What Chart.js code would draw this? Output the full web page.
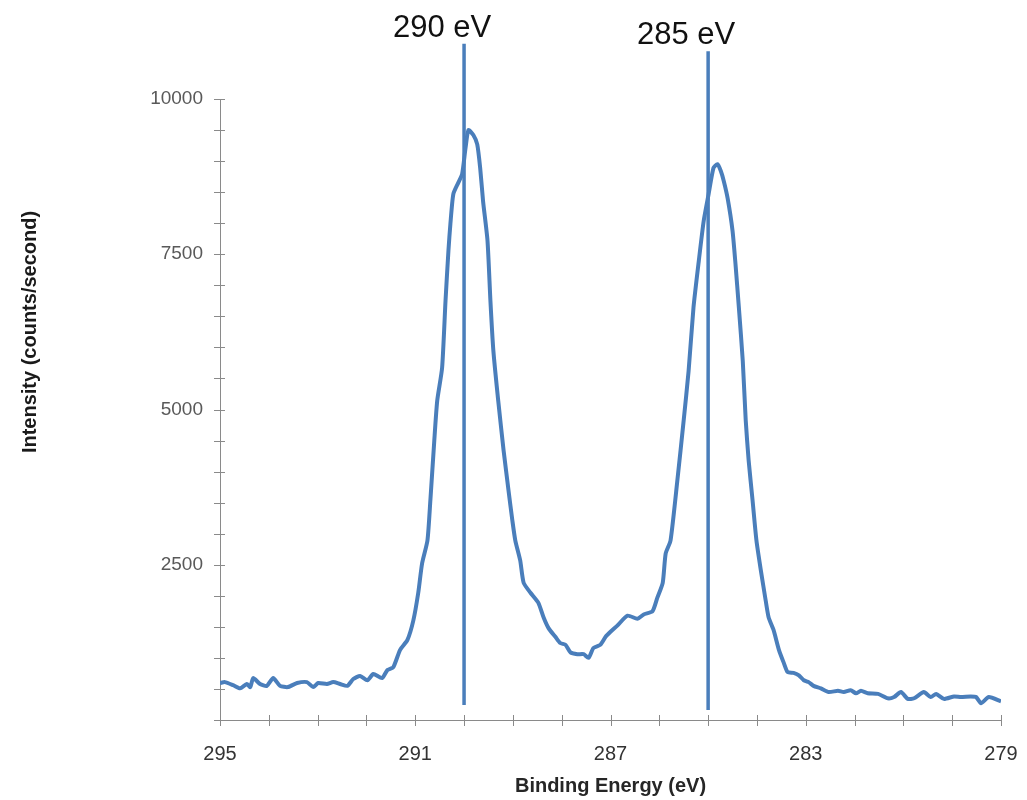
<!DOCTYPE html>
<html>
<head>
<meta charset="utf-8">
<script src="https://cdn.jsdelivr.net/npm/chart.js@4.4.0/dist/chart.umd.min.js"></script>
<style>
  html, body { margin: 0; padding: 0; background: #fff; overflow: hidden; }
  #wrap { width: 1027px; height: 800px; position: relative; }
  canvas { display: block; }
</style>
</head>
<body>
<div id="wrap"><canvas id="xps"></canvas></div>
<script>
// C 1s spectrum
var energy = [295.00, 294.90, 294.73, 294.59, 294.45, 294.38, 294.32, 294.18, 294.04, 293.91,
  293.77, 293.61, 293.42, 293.22, 293.09, 292.99, 292.81, 292.68, 292.54, 292.39,
  292.27, 292.13, 291.98, 291.86, 291.68, 291.57, 291.45, 291.31, 291.16, 291.04,
  290.94, 290.86, 290.75, 290.69, 290.61, 290.55, 290.45, 290.38, 290.32, 290.28,
  290.22, 290.12, 290.04, 289.97, 289.91, 289.81, 289.73, 289.67, 289.61, 289.52,
  289.46, 289.40, 289.30, 289.19, 289.09, 289.01, 288.95, 288.85, 288.78, 288.64,
  288.48, 288.37, 288.27, 288.13, 288.03, 287.92, 287.82, 287.68, 287.55, 287.45,
  287.35, 287.21, 287.10, 287.00, 286.86, 286.65, 286.45, 286.32, 286.14, 286.04,
  285.93, 285.87, 285.77, 285.63, 285.50, 285.40, 285.30, 285.19, 285.09, 284.99,
  284.89, 284.81, 284.74, 284.68, 284.60, 284.50, 284.44, 284.37, 284.29, 284.23,
  284.17, 284.09, 284.01, 283.92, 283.82, 283.76, 283.66, 283.55, 283.45, 283.37,
  283.25, 283.14, 283.04, 282.94, 282.84, 282.69, 282.53, 282.34, 282.22, 282.08,
  281.97, 281.87, 281.73, 281.52, 281.32, 281.19, 281.05, 280.91, 280.78, 280.58,
  280.44, 280.33, 280.17, 279.96, 279.82, 279.62, 279.51, 279.41, 279.25, 279.00];
var counts = [595, 610, 560, 510, 580, 530, 675, 580, 550, 675,
  550, 530, 595, 610, 530, 595, 580, 610, 580, 550,
  660, 710, 640, 740, 675, 805, 850, 1130, 1290, 1600,
  2040, 2520, 2890, 3540, 4500, 5140, 5670, 6750, 7560, 7990,
  8470, 8650, 8790, 9210, 9500, 9420, 9270, 8890, 8350, 7720,
  6750, 5950, 5140, 4340, 3700, 3210, 2890, 2570, 2210, 2050,
  1890, 1650, 1480, 1340, 1240, 1210, 1090, 1060, 1060, 1000,
  1160, 1210, 1340, 1420, 1520, 1680, 1630, 1700, 1750, 1970,
  2210, 2680, 2890, 3860, 4830, 5620, 6640, 7400, 8040, 8470,
  8890, 8950, 8840, 8680, 8400, 7880, 7350, 6640, 5780, 4830,
  4180, 3540, 2890, 2410, 1920, 1650, 1450, 1130, 920, 770,
  760, 720, 640, 610, 550, 510, 450, 470, 450, 480,
  430, 470, 430, 420, 350, 370, 450, 340, 350, 450,
  370, 420, 340, 380, 370, 380, 370, 270, 370, 300];

// reference lines
var markerEv = [290, 285];
var markerTop = [10890, 10770];
var markerBottom = [240, 160];
var markerLabels = ['290 eV', '285 eV'];

var xLabelTicks = [295, 291, 287, 283, 279];
var yLabelTicks = [2500, 5000, 7500, 10000];

var BLUE = '#4a7ebb';
var AXIS = '#8a8a8a';
var FONT = "'Liberation Sans', Arial, sans-serif";

var spectrum = [];
for (let i = 0; i < energy.length; i++) {
  spectrum.push({x: energy[i], y: counts[i]});
}

var datasets = [{
  data: spectrum,
  showLine: true,
  borderColor: BLUE,
  borderWidth: 4,
  pointRadius: 0,
  tension: 0.2,
  fill: false
}];
for (let i = 0; i < markerEv.length; i++) {
  datasets.push({
    data: [{x: markerEv[i], y: markerBottom[i]}, {x: markerEv[i], y: markerTop[i]}],
    showLine: true,
    borderColor: BLUE,
    borderWidth: 3.5,
    pointRadius: 0,
    clip: false
  });
}

var overlay = {
  id: 'overlay',
  afterDraw: function(chart){
    let ctx = chart.ctx;
    let xs = chart.scales.x;
    let ys = chart.scales.y;
    ctx.save();
    // tick marks crossing the axes
    ctx.strokeStyle = AXIS;
    ctx.lineWidth = 1;
    ctx.beginPath();
    xs.ticks.forEach(function(t){
      let px = Math.round(xs.getPixelForValue(t.value)) + 0.5;
      ctx.moveTo(px, ys.bottom - 5);
      ctx.lineTo(px, ys.bottom + 6);
    });
    ys.ticks.forEach(function(t){
      let py = Math.round(ys.getPixelForValue(t.value)) + 0.5;
      ctx.moveTo(xs.left - 6, py);
      ctx.lineTo(xs.left + 5, py);
    });
    ctx.stroke();
    // labels above the reference lines
    ctx.fillStyle = '#111';
    ctx.font = '31px ' + FONT;
    ctx.textAlign = 'center';
    ctx.textBaseline = 'alphabetic';
    for (let i = 0; i < markerEv.length; i++) {
      ctx.fillText(markerLabels[i], xs.getPixelForValue(markerEv[i]) - 22, ys.getPixelForValue(markerTop[i]) - 7);
    }
    // y axis title
    ctx.translate(30, chart.chartArea.top + 233);
    ctx.rotate(-Math.PI / 2);
    ctx.font = 'bold 20px ' + FONT;
    ctx.fillStyle = '#1a1a1a';
    ctx.textBaseline = 'middle';
    ctx.fillText('Intensity (counts/second)', 0, 0);
    ctx.restore();
  }
};

new Chart(document.getElementById('xps'), {
  type: 'scatter',
  data: {datasets: datasets},
  options: {
    responsive: true,
    maintainAspectRatio: false,
    animation: false,
    layout: {padding: {top: 99, right: 26, left: 0, bottom: 0}},
    plugins: {legend: {display: false}, tooltip: {enabled: false}},
    scales: {
      x: {
        type: 'linear',
        reverse: true,
        min: 279,
        max: 295,
        afterFit: function(s){ s.height = 80; s.paddingLeft = 0; s.paddingRight = 0; },
        grid: {display: true, drawOnChartArea: false, drawTicks: false},
        border: {display: true, color: AXIS, width: 1},
        ticks: {
          stepSize: 1,
          autoSkip: false,
          maxRotation: 0,
          padding: 22,
          color: '#333',
          font: {family: FONT, size: 20},
          callback: function(v){ return xLabelTicks.indexOf(v) >= 0 ? String(v) : ''; }
        },
        title: {
          display: true,
          text: 'Binding Energy (eV)',
          color: '#262626',
          font: {family: FONT, size: 20, weight: 'bold'},
          padding: {top: 0, bottom: 2}
        }
      },
      y: {
        min: 0,
        max: 10000,
        afterFit: function(s){ s.width = 220; },
        grid: {display: true, drawOnChartArea: false, drawTicks: false},
        border: {display: true, color: AXIS, width: 1},
        ticks: {
          stepSize: 500,
          autoSkip: false,
          padding: 17,
          color: '#595959',
          font: {family: FONT, size: 19},
          callback: function(v){ return yLabelTicks.indexOf(v) >= 0 ? String(v) : ''; }
        }
      }
    }
  },
  plugins: [overlay]
});
</script>
</body>
</html>
